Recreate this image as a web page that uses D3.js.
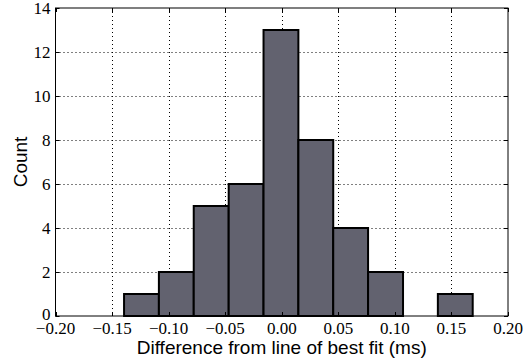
<!DOCTYPE html>
<html>
<head>
<meta charset="utf-8">
<script src="https://d3js.org/d3.v7.min.js"></script>
<style>
body { margin: 0; background: #fff; }
.tick-label { font: 17px "Liberation Serif", "Times New Roman", serif; fill: #000; }
.axis-title { font: 19px "Liberation Sans", Arial, sans-serif; fill: #000; }
.grid line { stroke: #000; stroke-width: 1; stroke-dasharray: 1,3; }
</style>
</head>
<body>
<svg id="chart"></svg>
<script>
// histogram bin edges and counts
var binEdges = [-0.1394, -0.1086, -0.0778, -0.0469, -0.0161, 0.0147, 0.0455, 0.0763, 0.1072, 0.1380, 0.1688];
var counts = [1, 2, 5, 6, 13, 8, 4, 2, 0, 1];
var xTicks = [-0.20, -0.15, -0.10, -0.05, 0.00, 0.05, 0.10, 0.15, 0.20];
var yTicks = [0, 2, 4, 6, 8, 10, 12, 14];

var width = 528, height = 362;
var margin = {left: 55.5, right: 20, top: 8, bottom: 46};

var svg = d3.select("#chart").attr("width", width).attr("height", height);

var x = d3.scaleLinear().domain([-0.2, 0.2]).range([margin.left, width - margin.right]);
var y = d3.scaleLinear().domain([0, 14]).range([height - margin.bottom, margin.top]);

var x0 = x.range()[0], x1 = x.range()[1], y0 = y.range()[0], y1 = y.range()[1];

// grid
var grid = svg.append("g").attr("class", "grid");
grid.selectAll(".gx").data(xTicks.slice(1, -1)).enter().append("line")
    .attr("x1", function(d) { return Math.round(x(d)) + 0.5; })
    .attr("x2", function(d) { return Math.round(x(d)) + 0.5; })
    .attr("y1", y1).attr("y2", y0);
grid.selectAll(".gy").data(yTicks.slice(1, -1)).enter().append("line")
    .attr("y1", function(d) { return Math.round(y(d)) + 0.5; })
    .attr("y2", function(d) { return Math.round(y(d)) + 0.5; })
    .attr("x1", x0).attr("x2", x1);

// bars
var bins = counts.map(function(c, i) { return {x0: binEdges[i], x1: binEdges[i + 1], n: c}; });
svg.selectAll("rect.bar").data(bins.filter(function(d) { return d.n > 0; })).enter().append("rect")
    .attr("class", "bar")
    .attr("x", function(d) { return x(d.x0); })
    .attr("width", function(d) { return x(d.x1) - x(d.x0); })
    .attr("y", function(d) { return y(d.n); })
    .attr("height", function(d) { return y(0) - y(d.n); })
    .attr("fill", "#62626f")
    .attr("stroke", "#000")
    .attr("stroke-width", 2);

// frame
svg.append("rect")
    .attr("x", x0).attr("y", y1)
    .attr("width", x1 - x0).attr("height", y0 - y1)
    .attr("fill", "none").attr("stroke", "#000").attr("stroke-width", 1);

// inward ticks on all four sides
var tk = svg.append("g").attr("stroke", "#000").attr("stroke-width", 1);
xTicks.forEach(function(d) {
    var px = Math.round(x(d)) + 0.5;
    tk.append("line").attr("x1", px).attr("x2", px).attr("y1", y0).attr("y2", y0 - 4);
    tk.append("line").attr("x1", px).attr("x2", px).attr("y1", y1).attr("y2", y1 + 4);
});
yTicks.forEach(function(d) {
    var py = Math.round(y(d)) + 0.5;
    tk.append("line").attr("x1", x0).attr("x2", x0 + 4).attr("y1", py).attr("y2", py);
    tk.append("line").attr("x1", x1).attr("x2", x1 - 4).attr("y1", py).attr("y2", py);
});

// tick labels
var fmt = function(d) { return d3.format(".2f")(d).replace("-", "\u2212\u200a"); };
svg.selectAll(".xl").data(xTicks).enter().append("text")
    .attr("class", "tick-label")
    .attr("x", function(d) { return x(d); })
    .attr("y", y0 + 18)
    .attr("text-anchor", "middle")
    .text(fmt);
svg.selectAll(".yl").data(yTicks).enter().append("text")
    .attr("class", "tick-label")
    .attr("x", x0 - 5)
    .attr("y", function(d) { return y(d) + (d === 0 ? 4 : 6); })
    .attr("text-anchor", "end")
    .text(function(d) { return d; });

// axis titles
svg.append("text").attr("class", "axis-title")
    .attr("x", (x0 + x1) / 2).attr("y", 354)
    .attr("text-anchor", "middle")
    .text("Difference from line of best fit (ms)");
svg.append("text").attr("class", "axis-title")
    .attr("transform", "translate(27," + ((y0 + y1) / 2) + ") rotate(-90)")
    .attr("text-anchor", "middle")
    .text("Count");
</script>
</body>
</html>
